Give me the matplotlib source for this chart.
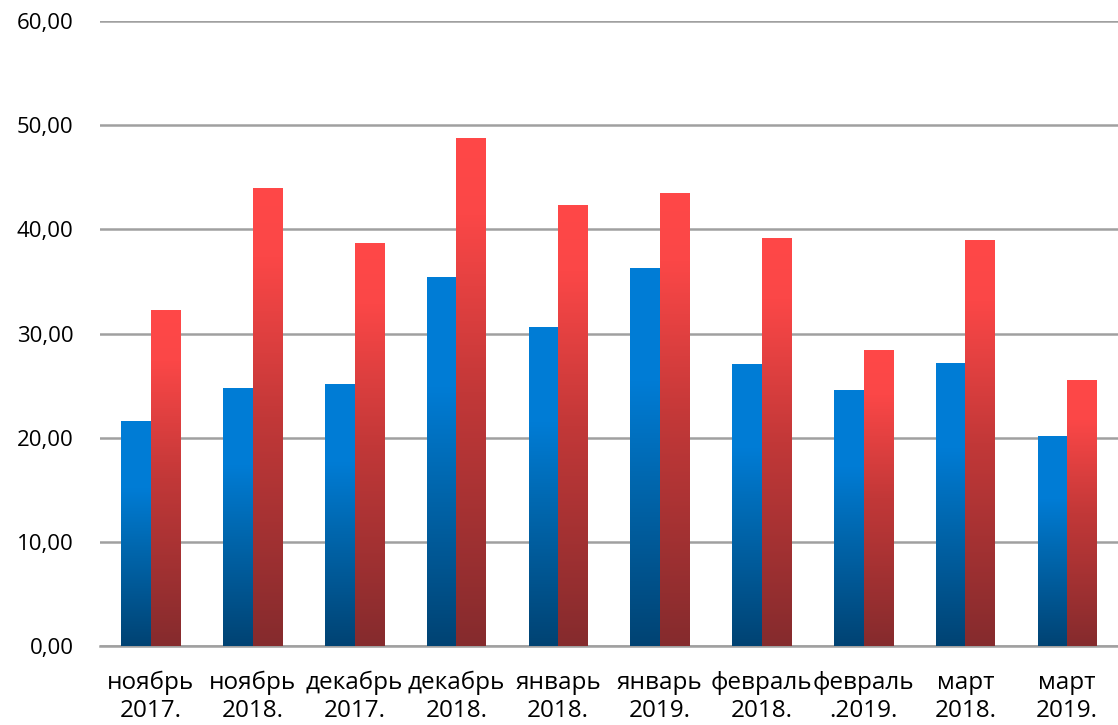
import matplotlib
matplotlib.use("Agg")
import matplotlib.pyplot as plt
from matplotlib.colors import LinearSegmentedColormap
import numpy as np

plt.rcParams['font.family'] = ['Open Sans', 'DejaVu Sans']

months = ['ноябрь\n2017.', 'ноябрь\n2018.', 'декабрь\n2017.', 'декабрь\n2018.',
          'январь\n2018.', 'январь\n2019.', 'февраль\n2018.', 'февраль\n.2019.',
          'март\n2018.', 'март\n2019.']
blue_vals = [21.6, 24.7, 25.1, 35.4, 30.6, 36.2, 27.0, 24.5, 27.1, 20.1]
red_vals = [32.2, 43.9, 38.6, 48.7, 42.3, 43.4, 39.1, 28.4, 38.9, 25.5]
y_ticks = [0, 10, 20, 30, 40, 50, 60]

# вертикальные градиенты: снизу тёмный, сверху яркий
blue_cmap = LinearSegmentedColormap.from_list(
    'b', [(0, '#004373'), (0.45, '#0068b0'), (0.7, '#007cd5'), (1, '#007dd6')])
red_cmap = LinearSegmentedColormap.from_list(
    'r', [(0, '#852b2d'), (0.5, '#c23838'), (0.85, '#fb4747'), (1, '#ff4848')])
grad = np.linspace(0, 1, 256).reshape(-1, 1)

fig = plt.figure(figsize=(11.18, 7.25), dpi=100)
ax = fig.add_axes([100 / 1118, 1 - 646 / 725, 1 - 100 / 1118, (646 - 21) / 725])

w = 0.29
x = np.arange(len(months))
for i in x:
    for vals, cmap, off in ((blue_vals, blue_cmap, -w), (red_vals, red_cmap, 0)):
        x0 = i + off
        ax.imshow(grad, extent=[x0, x0 + w, 0, vals[i]], origin='lower',
                  cmap=cmap, aspect='auto', zorder=3, interpolation='bilinear')

ax.set_xlim(-0.5, len(months) - 0.5)
ax.set_ylim(0, 60)
ax.set_yticks(y_ticks)
ax.set_yticklabels([('%.2f' % v).replace('.', ',') for v in y_ticks])
ax.set_xticks(x)
ax.set_xticklabels(months, linespacing=1.2)
ax.tick_params(axis='both', length=0, colors='black')
ax.tick_params(axis='y', pad=19, labelsize=16)
ax.tick_params(axis='x', pad=18, labelsize=17.5)

ax.grid(axis='y', color='#a0a0a0', linewidth=1.8, zorder=1)
for s in ['left', 'right', 'top']:
    ax.spines[s].set_visible(False)
ax.spines['bottom'].set_color('#a0a0a0')
ax.spines['bottom'].set_linewidth(1.8)

fig.savefig('out.png', dpi=100)
